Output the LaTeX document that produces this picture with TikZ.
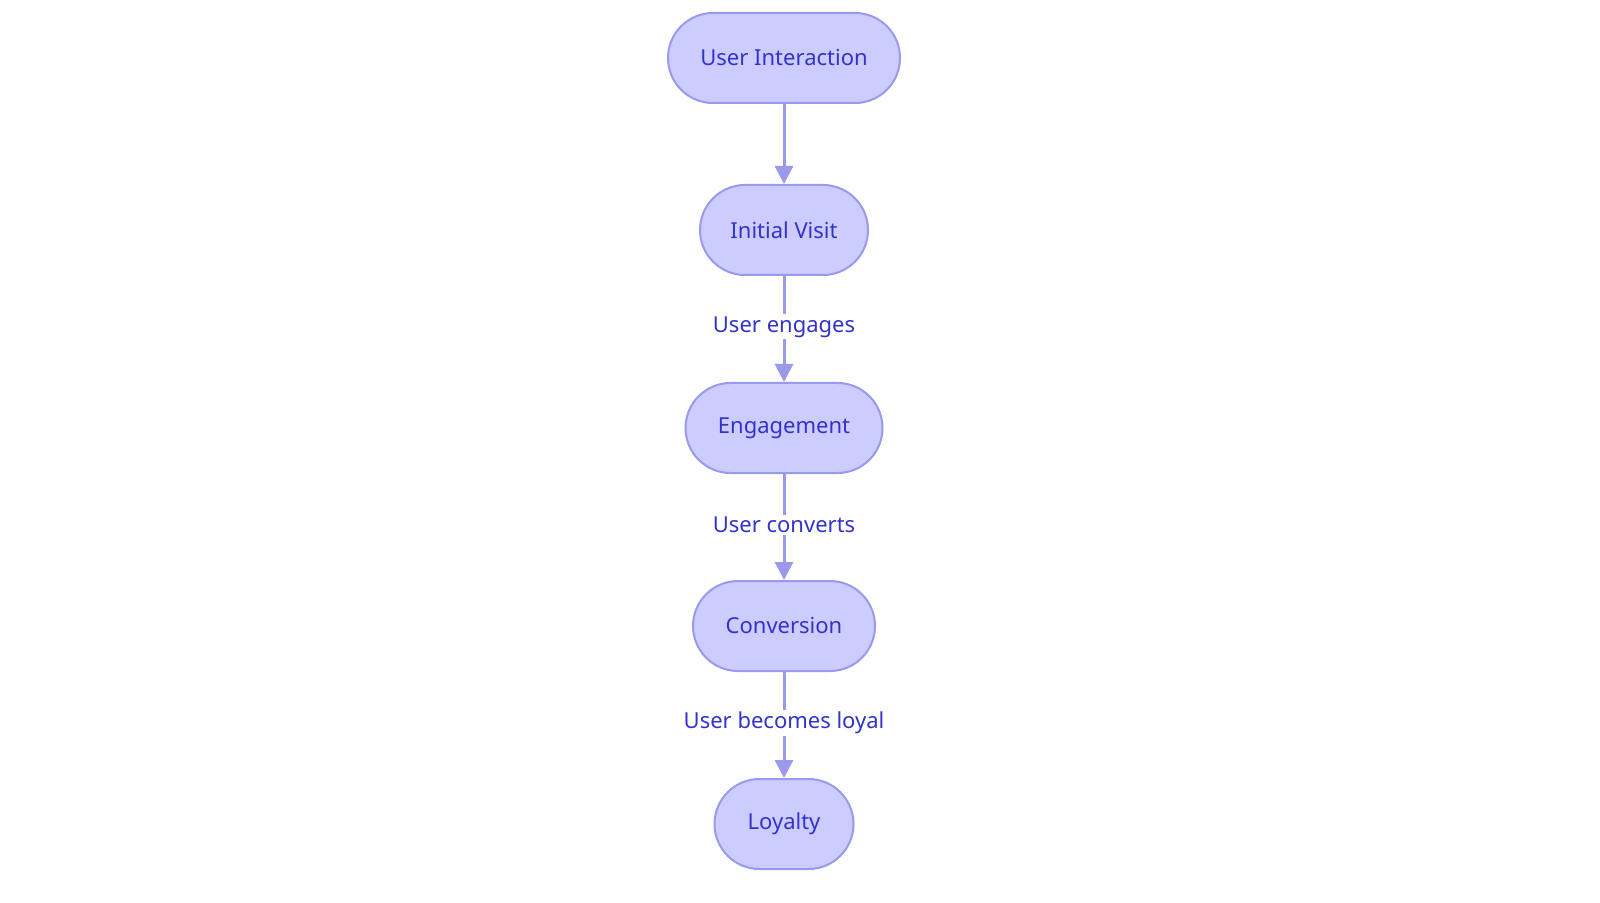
\documentclass[tikz,border=0pt]{standalone}
\usepackage{fontspec}
\setmainfont{Noto Sans}
\usetikzlibrary{arrows.meta}
\definecolor{nfill}{HTML}{CCCCFF}
\definecolor{nline}{HTML}{9999EE}
\definecolor{ntext}{HTML}{3333CC}
\begin{document}
\begin{tikzpicture}[x=0.5pt,y=-0.5pt,
  box/.style={draw=nline,fill=nfill,line width=1pt,rounded corners=22.5pt,minimum height=45pt,text=ntext,font=\fontsize{11}{13}\selectfont,inner sep=0pt},
  arr/.style={draw=nline,line width=1.5pt,-{Triangle[length=9pt,width=9pt]}},
  lbl/.style={fill=white,text=ntext,font=\fontsize{11}{13}\selectfont,inner sep=1pt}]
\useasboundingbox (0,0) rectangle (1600,903);
\node[box,minimum width=116pt] (a) at (784,58) {User Interaction};
\node[box,minimum width=84pt] (b) at (784,230) {Initial Visit};
\node[box,minimum width=98.5pt] (c) at (784,428) {Engagement};
\node[box,minimum width=91pt] (d) at (784,626) {Conversion};
\node[box,minimum width=69.5pt] (e) at (784,824) {Loyalty};
\draw[arr] (a) -- (b);
\draw[arr] (b) -- node[lbl,pos=0.48]{User engages} (c);
\draw[arr] (c) -- node[lbl,pos=0.48]{User converts} (d);
\draw[arr] (d) -- node[lbl,pos=0.48]{User becomes loyal} (e);
\end{tikzpicture}
\end{document}
